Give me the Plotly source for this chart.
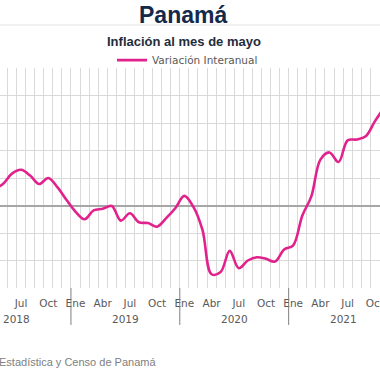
import plotly.graph_objects as go

# ---- data ----
months = ["2018-04", "2018-05", "2018-06", "2018-07", "2018-08", "2018-09", "2018-10", "2018-11", "2018-12",
          "2019-01", "2019-02", "2019-03", "2019-04", "2019-05", "2019-06", "2019-07", "2019-08", "2019-09",
          "2019-10", "2019-11", "2019-12",
          "2020-01", "2020-02", "2020-03", "2020-04", "2020-05", "2020-06", "2020-07", "2020-08", "2020-09",
          "2020-10", "2020-11", "2020-12",
          "2021-01", "2021-02", "2021-03", "2021-04", "2021-05", "2021-06", "2021-07", "2021-08", "2021-09",
          "2021-10", "2021-11"]
variacion = [0.60, 0.78, 1.16, 1.30, 1.09, 0.78, 1.00, 0.67, 0.21,
             -0.22, -0.50, -0.18, -0.12, -0.02, -0.55, -0.28, -0.61, -0.64, -0.77, -0.46, -0.10,
             0.35, -0.05, -0.89, -2.50, -2.42, -1.65, -2.28, -2.00, -1.88, -1.94, -2.04, -1.60,
             -1.45, -0.37, 0.33, 1.67, 1.93, 1.58, 2.37, 2.40, 2.52, 3.06, 3.55]
month_names = {1: "Ene", 4: "Abr", 7: "Jul", 10: "Oct"}
years = ["2018", "2019", "2020", "2021"]

# category positions: month i occupies [i, i+1], point at the centre
x = [i + 0.5 for i in range(len(months))]
tickvals, ticktext = [], []
for i, mth in enumerate(months):
    mm = int(mth[5:])
    if mm in month_names:
        tickvals.append(i + 0.5)
        ticktext.append(month_names[mm])

first_year = int(months[0][:4])
first_month = int(months[0][5:])
def year_start(y):
    return (int(y) - first_year) * 12 - (first_month - 1)

PINK = "#E2228C"
GRID = "#d9d9d9"
TXT = "#595959"

fig = go.Figure()
fig.add_trace(go.Scatter(
    x=x, y=variacion, mode="lines", name="Variación Interanual",
    line=dict(color=PINK, width=2.6, shape="spline", smoothing=1.0),
    hoverinfo="skip"))

shapes = []
annotations = []
for y in years:
    s = year_start(y)
    if y != years[0]:
        shapes.append(dict(type="line", xref="x", yref="paper", x0=s, x1=s, y0=0, y1=-0.168,
                           line=dict(color="#7f7f7f", width=1)))
    annotations.append(dict(x=s + 6, y=-0.141, xref="x", yref="paper", text=y, showarrow=False,
                            font=dict(family="DejaVu Sans", size=10.5, color=TXT),
                            xanchor="center", yanchor="middle"))

shapes.append(dict(type="line", xref="paper", yref="paper", x0=0, x1=1, y0=1.1955, y1=1.1955,
                   line=dict(color="#e3e3e3", width=1)))

annotations += [
    dict(x=0.482, y=1.241, xref="paper", yref="paper", text="<b>Panamá</b>", showarrow=False,
         font=dict(family="Liberation Sans", size=23, color="#15294b"), xanchor="center", yanchor="middle"),
    dict(x=0.483, y=1.12, xref="paper", yref="paper", text="<b>Inflación al mes de mayo</b>", showarrow=False,
         font=dict(family="Liberation Sans", size=13, color="#1f2d3d"), xanchor="center", yanchor="middle"),
    dict(x=158 / 380, y=-0.336, xref="paper", yref="paper", text="Estadística y Censo de Panamá",
         showarrow=False, font=dict(family="Liberation Sans", size=11, color="#808080"),
         xanchor="right", yanchor="middle"),
]

fig.update_layout(
    width=380, height=380,
    margin=dict(l=0, r=0, t=68, b=92, autoexpand=False),
    paper_bgcolor="white", plot_bgcolor="white",
    showlegend=True,
    legend=dict(orientation="h", x=112 / 380, xanchor="left", y=1.036, yanchor="middle",
                font=dict(family="DejaVu Sans", size=10.5, color=TXT), bgcolor="rgba(0,0,0,0)"),
    xaxis=dict(range=[1.18, 43.07], tickmode="array", tickvals=tickvals, ticktext=ticktext,
               showgrid=False, zeroline=False, showline=False, ticks="", automargin=False,
               ticklabelstandoff=7, ticklabeloverflow="allow",
               tickfont=dict(family="DejaVu Sans", size=10.5, color=TXT),
               minor=dict(tickmode="linear", tick0=0, dtick=1, showgrid=True, gridcolor=GRID,
                          gridwidth=1, ticks="")),
    yaxis=dict(range=[-3, 5], dtick=1, showgrid=True, gridcolor=GRID, gridwidth=1,
               zeroline=True, zerolinecolor="#a6a6a6", zerolinewidth=1.5, automargin=False,
               showticklabels=False, ticks="", showline=False),
    shapes=shapes, annotations=annotations,
)

fig.write_html("out.html", config={"displayModeBar": False},
               post_script="document.body.style.margin='0';")
